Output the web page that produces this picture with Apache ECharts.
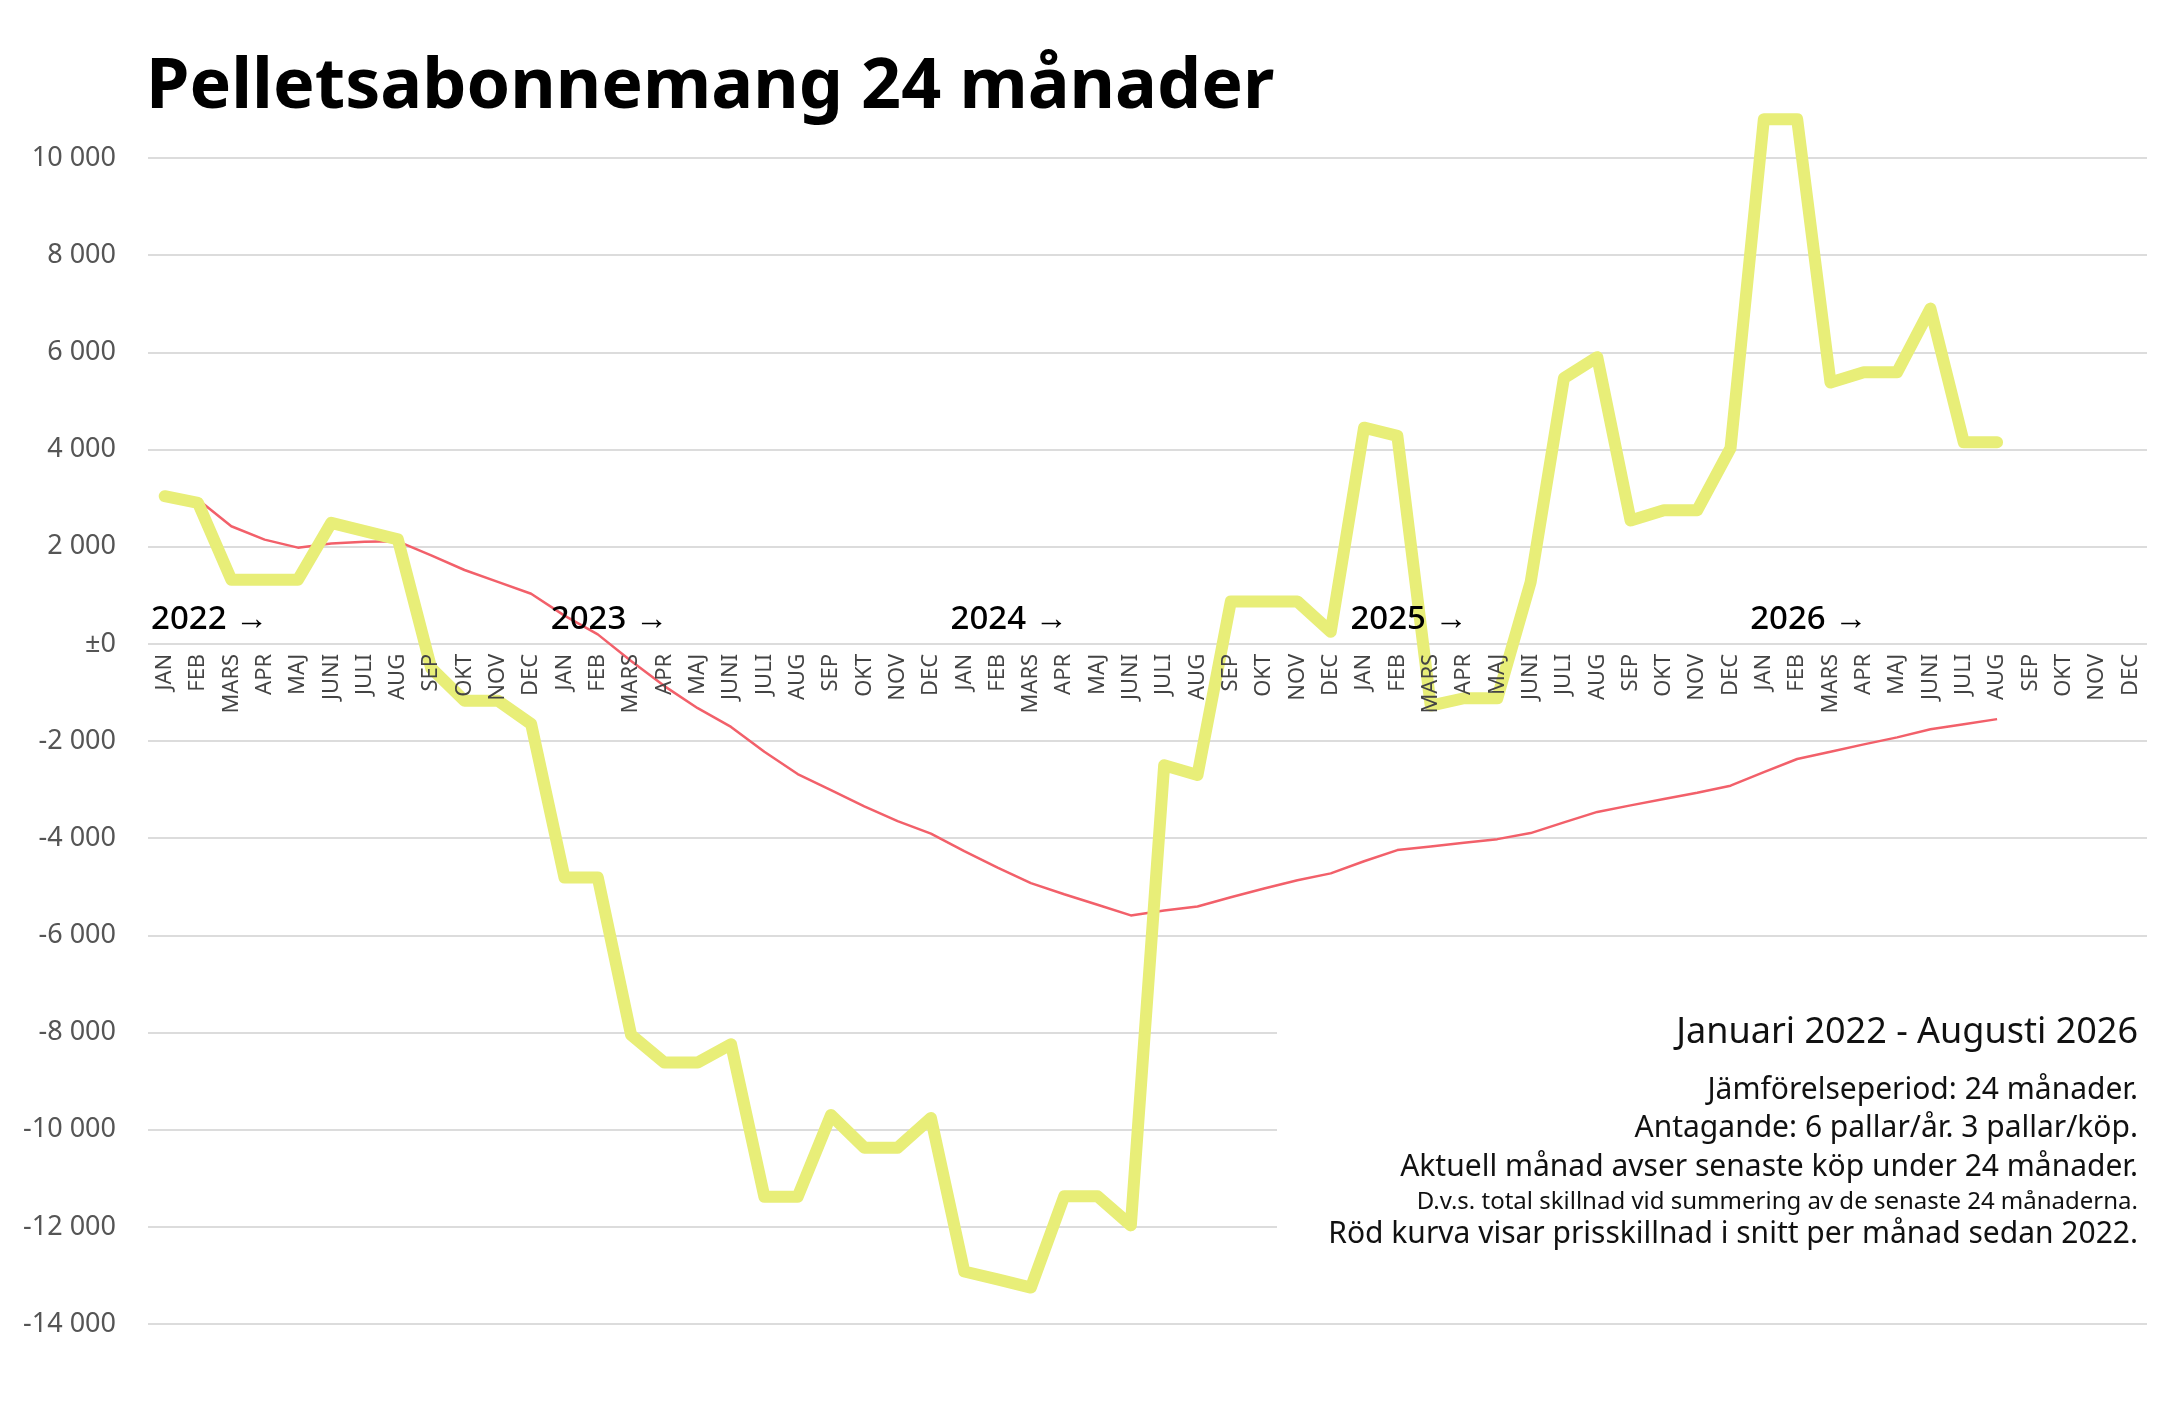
<!DOCTYPE html>
<html>
<head>
<meta charset="utf-8">
<script src="https://cdn.jsdelivr.net/npm/echarts@6/dist/echarts.min.js"></script>
<style>
html, body { margin: 0; padding: 0; background: #fff; }
#main { width: 2160px; height: 1410px; }
</style>
</head>
<body>
<div id="main"></div>
<script>
var years = ['2022', '2023', '2024', '2025', '2026'];
var monthNames = ['JAN', 'FEB', 'MARS', 'APR', 'MAJ', 'JUNI', 'JULI', 'AUG', 'SEP', 'OKT', 'NOV', 'DEC'];
var yTicks = [-14000, -12000, -10000, -8000, -6000, -4000, -2000, 0, 2000, 4000, 6000, 8000, 10000];

// prisskillnad per månad (senaste köp, 24 mån)
var diff24 = [
    3040, 2900, 1320, 1320, 1320, 2490, 2320, 2150, -500, -1170, -1170, -1650,
    -4810, -4810, -8050, -8620, -8620, -8240, -11380, -11380, -9700, -10370, -10370, -9760,
    -12920, -13080, -13250, -11370, -11370, -11970, -2500, -2700, 870, 870, 870, 250,
    4450, 4280, -1270, -1120, -1120, 1270, 5470, 5900, 2540, 2750, 2750, 4030,
    10800, 10800, 5380, 5590, 5590, 6900, 4150, 4150
];
// röd kurva: snitt sedan 2022
var avgSince2022 = [
    3040, 2970, 2420, 2145, 1980, 2065, 2100, 2110, 1820, 1520, 1275, 1030,
    580, 195, -355, -870, -1325, -1710, -2220, -2680, -3010, -3345, -3650, -3905,
    -4265, -4605, -4925, -5155, -5370, -5590, -5490, -5405, -5215, -5035, -4865, -4725,
    -4475, -4245, -4170, -4095, -4020, -3895, -3675, -3460, -3325, -3195, -3065, -2920,
    -2640, -2370, -2220, -2070, -1925, -1760, -1655, -1550
];
var notes = [
    'Jämförelseperiod: 24 månader.',
    'Antagande: 6 pallar/år. 3 pallar/köp.',
    'Aktuell månad avser senaste köp under 24 månader.',
    'D.v.s. total skillnad vid summering av de senaste 24 månaderna.',
    'Röd kurva visar prisskillnad i snitt per månad sedan 2022.'
];

var categories = [];
for (var y = 0; y < years.length; y++) {
    for (var m = 0; m < monthNames.length; m++) {
        categories.push(years[y] + '-' + monthNames[m]);
    }
}

var FONT = '"Noto Sans", sans-serif';

function fmtY(v) {
    if (v === 0) return '±0';
    var s = String(Math.abs(v)).replace(/\B(?=(\d{3})+(?!\d))/g, ' ');
    return (v < 0 ? '-' : '') + s;
}

function noteText(txt, yPos, size) {
    return {
        type: 'text', z: 2, x: 2138, y: yPos,
        style: { text: txt, font: size + 'px "Noto Sans"', fill: '#111', textAlign: 'right', textVerticalAlign: 'bottom' }
    };
}

var myChart = echarts.init(document.getElementById('main'));
var option = {
    backgroundColor: '#fff',
    animation: false,
    title: {
        text: 'Pelletsabonnemang 24 månader',
        left: 141,
        top: 48,
        textStyle: {
            fontFamily: FONT,
            fontSize: 70,
            fontWeight: 'bold',
            color: '#000'
        }
    },
    grid: {
        left: 148,
        right: 13,
        top: 158,
        bottom: 86
    },
    xAxis: {
        type: 'category',
        data: categories,
        boundaryGap: true,
        z: 6,
        axisLine: { show: false, onZero: false },
        axisTick: { show: false },
        splitLine: { show: false },
        axisLabel: {
            interval: 0,
            rotate: 90,
            margin: 10,
            fontFamily: FONT,
            fontSize: 22,
            color: '#444',
            formatter: function (v) { return v.split('-')[1]; }
        }
    },
    yAxis: {
        type: 'value',
        min: yTicks[0],
        max: yTicks[yTicks.length - 1],
        interval: 2000,
        axisLine: { show: false },
        axisTick: { show: false },
        splitLine: { lineStyle: { color: '#dcdcdc', width: 2 } },
        axisLabel: {
            margin: 32,
            fontFamily: FONT,
            fontSize: 27,
            color: '#555',
            formatter: fmtY
        }
    },
    graphic: [],
    series: [{
        name: 'Snitt sedan 2022',
        type: 'line',
        data: avgSince2022,
        showSymbol: false,
        clip: false,
        z: 3,
        lineStyle: { color: '#f2606a', width: 2.5 }
    }, {
        name: '24 månader',
        type: 'line',
        data: diff24,
        showSymbol: false,
        clip: false,
        z: 4,
        lineStyle: { color: '#e8ee78', width: 12, cap: 'round', join: 'round' }
    }]
};
myChart.setOption(option);

// month labels sit on the zero line, year markers just above it
var zeroY = myChart.convertToPixel({ yAxisIndex: 0 }, 0);
var bottomY = myChart.convertToPixel({ yAxisIndex: 0 }, yTicks[0]);
var slot = myChart.convertToPixel({ xAxisIndex: 0 }, categories[1]) - myChart.convertToPixel({ xAxisIndex: 0 }, categories[0]);

var graphics = [{
    type: 'rect',
    z: 1,
    shape: { x: 1277, y: 1000, width: 880, height: 290 },
    style: { fill: '#fff' }
}];
for (var i = 0; i < years.length; i++) {
    var jx = myChart.convertToPixel({ xAxisIndex: 0 }, categories[i * 12]);
    graphics.push({
        type: 'text', z: 7,
        x: jx - slot / 2 + 3,
        y: zeroY - 8,
        style: { text: years[i] + ' →', font: '500 33px "Noto Sans"', fill: '#000', textAlign: 'left', textVerticalAlign: 'bottom' }
    });
}
graphics.push(noteText('Januari 2022 - Augusti 2026', 1051, 36));
graphics.push(noteText(notes[0], 1105, 30));
graphics.push(noteText(notes[1], 1143, 30));
graphics.push(noteText(notes[2], 1182, 30));
graphics.push(noteText(notes[3], 1214, 24));
graphics.push(noteText(notes[4], 1249, 30));

myChart.setOption({
    xAxis: { offset: zeroY - bottomY },
    graphic: graphics
});
</script>
</body>
</html>
